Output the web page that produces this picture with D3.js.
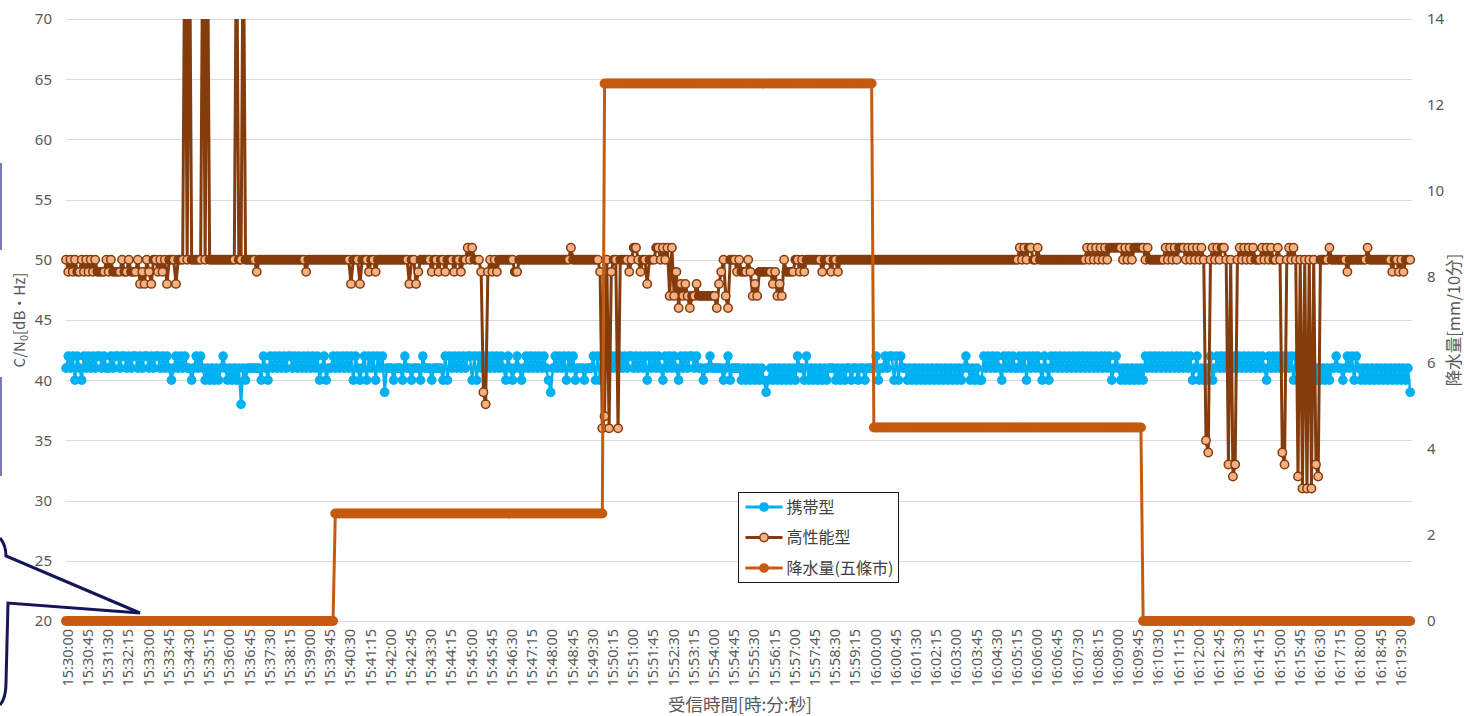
<!DOCTYPE html>
<html><head><meta charset="utf-8">
<script src="https://cdn.jsdelivr.net/npm/d3@7"></script>
<style>body{margin:0;background:#fff;} svg{display:block;}</style>
</head><body>
<svg id="chart" width="1464" height="716"></svg>
<script>
// ---------- DATA ----------
const seriesNames = ["携帯型", "高性能型", "降水量(五條市)"];
const startClock = [15, 30, 0];          // 15:30:00
const sampleStepSec = 5;                 // one sample every 5 s (one row = one minute)
// 携帯型 C/N0 [dB-Hz]
const blueCN0 = [
41,42,41,42,40,42,41,40,42,41,42,41,
42,41,42,42,41,42,41,41,42,41,42,42,
41,42,42,41,42,41,42,42,41,42,41,42,
42,41,42,41,42,42,41,42,41,42,41,40,
41,42,41,42,41,42,41,41,40,41,42,41,
42,41,40,41,40,41,40,41,40,41,42,41,
40,41,40,41,40,41,38,41,40,41,41,41,
41,41,41,40,42,41,40,42,41,42,41,42,
41,42,41,42,42,41,42,41,42,41,42,41,
42,41,42,41,42,40,41,42,40,41,41,42,
41,42,41,42,41,42,41,42,40,42,41,40,
41,42,40,42,41,42,40,42,41,42,39,41,
41,41,40,41,41,41,40,42,41,41,40,41,
41,41,40,42,41,41,41,40,41,41,41,41,
40,42,40,42,41,42,41,42,41,42,41,42,
42,40,42,40,42,41,42,41,42,41,42,41,
42,41,42,41,40,42,41,40,41,42,41,40,
41,42,41,42,41,42,41,42,41,42,41,40,
39,41,42,41,42,41,42,40,42,41,42,40,
41,41,41,40,41,41,41,42,40,42,40,42,
41,42,41,42,41,42,41,42,41,42,41,42,
42,41,42,41,42,41,42,40,42,41,42,41,
42,41,40,42,41,42,41,42,41,40,42,41,
42,41,42,42,41,42,41,41,40,41,41,42,
41,41,41,41,41,40,41,42,40,41,41,41,
41,40,41,40,41,40,41,40,41,40,41,40,
39,40,41,40,41,40,41,40,41,40,41,40,
41,40,42,41,41,40,42,40,41,40,41,40,
41,40,41,40,41,41,41,40,41,40,41,40,
41,41,40,41,41,40,41,41,40,41,41,41,
41,42,40,41,41,42,41,42,42,40,42,40,
42,41,41,40,41,40,41,40,41,40,41,40,
41,40,41,40,41,40,41,40,41,40,41,40,
41,40,41,40,41,42,41,40,41,40,41,40,
40,42,41,42,41,42,41,42,41,40,42,41,
42,41,42,41,41,42,41,42,40,42,41,42,
41,42,41,40,42,41,40,42,41,42,41,42,
41,42,41,42,41,42,41,42,41,42,41,42,
41,42,41,42,41,42,41,42,41,42,40,41,
42,41,40,41,40,41,40,41,40,41,40,41,
40,42,41,42,41,42,41,42,41,42,41,42,
41,42,41,42,41,42,41,42,41,42,40,41,
42,40,41,40,41,40,42,40,41,42,41,42,
41,42,41,42,41,42,41,42,41,42,41,42,
41,42,41,42,41,42,41,40,42,41,42,41,
42,41,42,41,42,41,42,40,42,40,41,40,
41,40,41,40,41,40,41,40,41,40,41,40,
41,41,42,41,41,40,41,42,41,42,40,42,
41,40,41,40,41,40,41,40,41,40,41,40,
41,40,41,40,41,40,41,40,41,40,41,39
];
// 高性能型 C/N0 [dB-Hz]  (80 = off-scale spike above 70)
const brownCN0 = [
50,49,50,49,50,49,49,50,49,50,49,50,
49,50,49,49,49,49,50,49,50,49,49,49,
49,50,49,49,50,49,49,49,50,48,49,48,
50,49,48,50,50,49,50,49,50,48,50,50,
50,48,50,50,50,80,50,80,50,50,50,50,
50,80,50,80,50,50,50,50,50,50,50,50,
50,50,50,50,80,50,50,80,50,50,50,50,
50,49,50,50,50,50,50,50,50,50,50,50,
50,50,50,50,50,50,50,50,50,50,50,49,
50,50,50,50,50,50,50,50,50,50,50,50,
50,50,50,50,50,50,50,48,50,50,50,48,
50,50,50,49,50,50,49,50,50,50,50,50,
50,50,50,50,50,50,50,50,50,48,50,50,
48,49,50,50,50,50,50,49,50,50,49,50,
50,49,50,50,50,49,50,50,49,50,50,51,
50,51,50,50,50,49,39,38,49,50,49,50,
49,50,50,50,50,50,50,50,49,49,50,50,
50,50,50,50,50,50,50,50,50,50,50,50,
50,50,50,50,50,50,50,50,50,51,50,50,
50,50,50,50,50,50,50,50,50,50,49,36,
37,50,36,49,50,50,36,50,50,50,50,49,
50,51,51,50,49,50,50,48,50,50,50,51,
51,50,51,50,51,47,51,47,49,46,48,47,
48,47,46,47,47,48,47,47,47,47,47,47,
47,47,46,48,49,50,47,46,50,50,50,49,
50,49,49,49,50,49,47,48,47,49,49,49,
49,49,49,48,49,47,48,47,50,49,49,49,
49,50,50,49,50,49,50,50,50,50,50,50,
50,49,50,50,50,49,50,50,49,50,50,50,
50,50,50,50,50,50,50,50,50,50,50,50,
50,50,50,50,50,50,50,50,50,50,50,50,
50,50,50,50,50,50,50,50,50,50,50,50,
50,50,50,50,50,50,50,50,50,50,50,50,
50,50,50,50,50,50,50,50,50,50,50,50,
50,50,50,50,50,50,50,50,50,50,50,50,
50,50,50,50,50,51,50,51,50,51,51,50,
50,51,50,50,50,50,50,50,50,50,50,50,
50,50,50,50,50,50,50,50,50,50,50,51,
50,51,50,51,50,51,50,51,50,51,51,51,
51,51,51,50,51,50,51,50,51,51,51,51,
51,50,51,50,50,50,50,50,50,50,51,50,
51,50,51,50,51,51,51,50,51,50,51,50,
51,50,51,50,35,34,50,51,50,51,50,51,
51,50,33,50,32,33,50,51,50,51,50,51,
50,51,50,50,50,51,50,51,50,51,50,50,
51,50,34,33,50,51,50,51,50,32,50,31,
50,31,50,31,50,33,32,50,50,50,50,51,
50,50,50,50,50,50,50,49,50,50,50,50,
50,50,50,50,51,50,50,50,50,50,50,50,
50,50,50,49,50,50,49,50,49,50,50,50
];
// 降水量(五條市) [mm/10分] : 10-minute blocks starting at (seconds after 15:30:00)
const rainBlockStartSec = [0, 600, 1200, 1800, 2400];
const rainBlockValues   = [0, 2.5, 12.5, 4.5, 0];
const leftTicks  = [20, 25, 30, 35, 40, 45, 50, 55, 60, 65, 70];
const rightTicks = [0, 2, 4, 6, 8, 10, 12, 14];
const xLabelStepSec = 45;
const xLastLabelSec = 2970;
const xDomainSec = [0, 2999];

// ---------- CHART ----------
const svg = d3.select("#chart");
const W = 1464, H = 716;
const plot = {left: 66, right: 1412, top: 19, bottom: 621};
const numFont = "'Noto Sans', 'Open Sans', sans-serif";
const jpFont = "'Noto Sans CJK JP', sans-serif";
const grey = "#595959";

const x = d3.scaleLinear().domain(xDomainSec).range([plot.left, plot.right]);
const yL = d3.scaleLinear().domain([20, 70]).range([plot.bottom, plot.top]);
const yR = d3.scaleLinear().domain([0, 14]).range([plot.bottom, plot.top]);

function clockLabel(sec) {
  const tot = startClock[0]*3600 + startClock[1]*60 + startClock[2] + sec;
  const h = Math.floor(tot/3600), m = Math.floor(tot%3600/60), s = tot%60;
  return h + ":" + String(m).padStart(2,"0") + ":" + String(s).padStart(2,"0");
}

// gridlines (left axis)
const gy = svg.append("g").attr("transform", `translate(${plot.left},0)`)
  .call(d3.axisLeft(yL).tickValues(leftTicks).tickSize(-(plot.right - plot.left)).tickFormat(""));
gy.select(".domain").remove();
gy.selectAll("line").attr("stroke", "#d9d9d9").attr("stroke-width", 1).attr("shape-rendering", "crispEdges");

// left tick labels
const gL = svg.append("g").attr("transform", `translate(52,0)`)
  .call(d3.axisLeft(yL).tickValues(leftTicks).tickSize(0).tickPadding(0));
gL.select(".domain").remove();
gL.selectAll("text").attr("fill", grey).style("font-family", numFont).style("font-size", "15px");

// right tick labels
const gR = svg.append("g").attr("transform", `translate(1427,0)`)
  .call(d3.axisRight(yR).tickValues(rightTicks).tickSize(0).tickPadding(0));
gR.select(".domain").remove();
gR.selectAll("text").attr("fill", grey).style("font-family", numFont).style("font-size", "15px");

// x tick labels
const xTicks = d3.range(0, xLastLabelSec + 1, xLabelStepSec);
const gX = svg.append("g").attr("transform", `translate(0,${plot.bottom})`)
  .call(d3.axisBottom(x).tickValues(xTicks).tickSize(0).tickFormat(clockLabel));
gX.select(".domain").remove();
gX.selectAll("text")
  .attr("text-anchor", "end")
  .attr("x", 0).attr("y", 0).attr("dy", "0.36em")
  .attr("transform", "translate(1,8) rotate(-90)")
  .attr("fill", grey).style("font-family", numFont).style("font-size", "14.5px");

// clip (only top of plot area)
svg.append("defs").append("clipPath").attr("id", "clipTop")
  .append("rect").attr("x", 0).attr("y", plot.top).attr("width", W).attr("height", H - plot.top);

const times = blueCN0.map((d, i) => i * sampleStepSec);
const blueData = blueCN0.map((v, i) => ({t: times[i], v}));
const brownData = brownCN0.map((v, i) => ({t: i * sampleStepSec, v}));
const rainData = times.map(t => ({t, v: rainBlockValues[d3.bisectRight(rainBlockStartSec, t) - 1]}));

const series = svg.append("g").attr("clip-path", "url(#clipTop)");

function drawSeries(data, yScale, lineColor, lineW, r, fill, stroke, strokeW) {
  const g = series.append("g");
  g.append("path").datum(data)
    .attr("d", d3.line().x(d => x(d.t)).y(d => yScale(d.v)))
    .attr("fill", "none").attr("stroke", lineColor).attr("stroke-width", lineW)
    .attr("stroke-linejoin", "round");
  // a marker that is overlapped by the next one at the same level only shows its rim
  g.selectAll("circle").data(data).join("circle")
    .attr("cx", d => x(d.t)).attr("cy", d => yScale(d.v)).attr("r", r)
    .attr("fill", (d, i) => (stroke !== "none" && i < data.length - 1 && data[i+1].v === d.v) ? stroke : fill)
    .attr("stroke", stroke).attr("stroke-width", strokeW);
}
drawSeries(blueData, yL, "#00b0f0", 2.5, 4.8, "#00b0f0", "none", 0);
drawSeries(brownData, yL, "#843c0c", 3, 4.2, "#f4b183", "#843c0c", 1.5);
drawSeries(rainData, yR, "#c55a11", 3, 5, "#c55a11", "none", 0);

// legend
const lg = svg.append("g").attr("transform", "translate(738.5,492.5)");
lg.append("rect").attr("width", 160).attr("height", 90).attr("fill", "#fff").attr("stroke", "#1a1a1a").attr("stroke-width", 1);
const legendStyles = [
  {c: "#00b0f0", fill: "#00b0f0", stroke: "none", sw: 0},
  {c: "#843c0c", fill: "#f4b183", stroke: "#843c0c", sw: 1.5},
  {c: "#c55a11", fill: "#c55a11", stroke: "none", sw: 0}
];
seriesNames.forEach((name, i) => {
  const yy = 14.5 + i * 30.5;
  const st = legendStyles[i];
  lg.append("line").attr("x1", 7).attr("x2", 44).attr("y1", yy).attr("y2", yy)
    .attr("stroke", st.c).attr("stroke-width", 3);
  lg.append("circle").attr("cx", 25.5).attr("cy", yy).attr("r", st.sw ? 4.2 : 4.8)
    .attr("fill", st.fill).attr("stroke", st.stroke).attr("stroke-width", st.sw);
  lg.append("text").attr("x", 48).attr("y", yy).attr("dy", "0.35em")
    .attr("fill", "#404040").style("font-family", jpFont).style("font-size", "16px").text(name);
});

// axis titles
const lt = svg.append("text").attr("transform", "translate(20,320) rotate(-90)")
  .attr("text-anchor", "middle").attr("dy", "0.35em")
  .attr("fill", grey).style("font-family", jpFont).style("font-size", "15px");
lt.append("tspan").text("C/N");
lt.append("tspan").attr("dy", 3).style("font-size", "11px").text("0");
lt.append("tspan").attr("dy", -3).text("[dB・Hz]");

svg.append("text").attr("transform", "translate(1454,320) rotate(-90)")
  .attr("text-anchor", "middle").attr("dy", "0.35em")
  .attr("fill", grey).style("font-family", jpFont).style("font-size", "16.5px")
  .text("降水量[mm/10分]");

svg.append("text").attr("x", 740).attr("y", 705).attr("text-anchor", "middle").attr("dy", "0.35em")
  .attr("fill", grey).style("font-family", jpFont).style("font-size", "17.5px")
  .text("受信時間[時:分:秒]");

// callout shape fragments at the left edge
svg.append("line").attr("x1", 1).attr("x2", 1).attr("y1", 163).attr("y2", 250)
  .attr("stroke", "#7a7ab4").attr("stroke-width", 2);
svg.append("line").attr("x1", 1).attr("x2", 1).attr("y1", 377).attr("y2", 476)
  .attr("stroke", "#7a7ab4").attr("stroke-width", 2);
svg.append("path")
  .attr("d", "M0,538 Q6,545 6,556 L140,613 L8,603 L6,683 Q6,698 0,705")
  .attr("fill", "none").attr("stroke", "#15155a").attr("stroke-width", 3).attr("stroke-linejoin", "miter");
</script>
</body></html>
